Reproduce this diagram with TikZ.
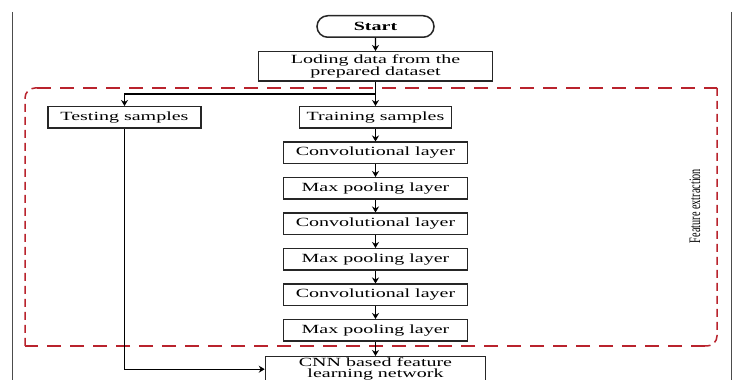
\documentclass[tikz,border=0pt]{standalone}
\usepackage{fontspec}
\usetikzlibrary{arrows.meta,positioning,shapes.misc}
\newfontfamily\boxfont{Liberation Serif}[FakeStretch=1.6]
\newfontfamily\sidefont{Liberation Serif}[FakeStretch=0.64]
\definecolor{dashred}{RGB}{185,35,45}

\begin{document}
\begin{tikzpicture}[x=1pt,y=1pt,
    box/.style={draw=black!85, line width=1.5pt, fill=white, inner sep=2pt,
      minimum height=21.5pt, align=center,
      font=\boxfont\fontsize{12.5}{12}\selectfont},
    layer/.style={box, minimum width=184pt},
    arr/.style={line width=1.2pt, -{Stealth[length=6pt,width=7pt]}},
    hdash/.style={dashred, line width=1.5pt, dash pattern=on 14pt off 9pt},
    vdash/.style={dashred, line width=1.5pt, dash pattern=on 8pt off 5pt}]
  \clip (0,0) rectangle (736,380);
  % frame lines of the figure
  \draw[black!70, line width=0.8pt] (12,368) -- (12,0);
  \draw[black!70, line width=0.8pt] (731,368) -- (731,0);

  % feature extraction region
  \draw[hdash] (37,292) -- (717,292);
  \draw[vdash, rounded corners=10pt] (25,34) -- (25,292) -- (37,292);
  \draw[vdash, rounded corners=10pt] (717,292) -- (717,34) -- (705,34);
  \draw[hdash] (705,34) -- (25,34);
  \node[rotate=90, font=\sidefont\fontsize{16}{16}\selectfont] (fe) at (695,174) {Feature extraction};

  \node[box, rounded rectangle, minimum width=121pt, font=\boxfont\bfseries\fontsize{12.5}{12.5}\selectfont] (start) at (375.5,353.5) {Start};
  \node[box, minimum width=234pt, minimum height=29.5pt, below=13pt of start] (load) {Loding data from the\\prepared dataset};
  \node[box, minimum width=152pt, below=24pt of load] (train) {Training samples};
  \node[box, minimum width=153pt, left=97pt of train] (test) {Testing samples};
  \foreach \n/\p/\t in {conv1/train/Convolutional layer, pool1/conv1/Max pooling layer,
      conv2/pool1/Convolutional layer, pool2/conv2/Max pooling layer,
      conv3/pool2/Convolutional layer, pool3/conv3/Max pooling layer}
    \node[layer, below=12.5pt of \p] (\n) {\t};
  \node[box, minimum width=220pt, inner ysep=1.2pt, below=14pt of pool3,
    font=\boxfont\fontsize{12.5}{11}\selectfont] (cnn) {CNN based feature\\learning network};

  \coordinate (split) at (375.5,286);
  \draw[arr] (start) -- (load);
  \draw[line width=1.2pt] (load) -- (split);
  \draw[arr] (split) -- (train);
  \draw[arr] (split) -| (test);
  \foreach \a/\b in {train/conv1, conv1/pool1, pool1/conv2, conv2/pool2, pool2/conv3, conv3/pool3, pool3/cnn}
    \draw[arr] (\a) -- (\b);
  \draw[arr] (test) |- (cnn);
\end{tikzpicture}
\end{document}
